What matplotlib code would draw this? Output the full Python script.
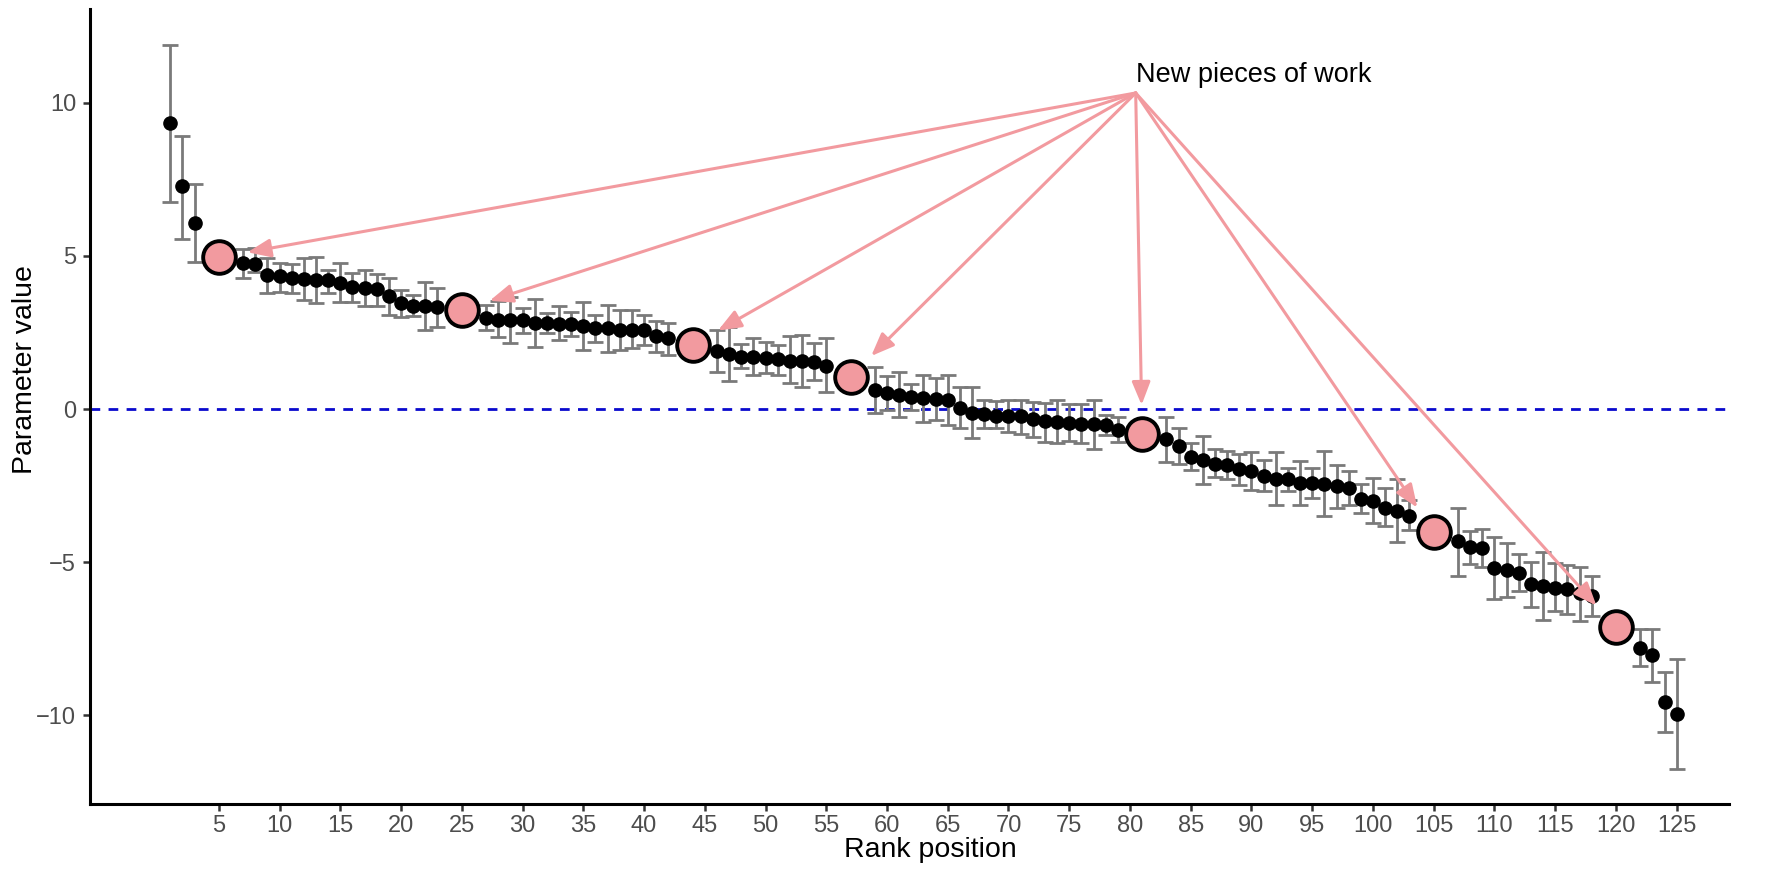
import numpy as np
import matplotlib
matplotlib.use("Agg")
import matplotlib.pyplot as plt

plt.rcParams['font.family'] = ['Liberation Sans', 'DejaVu Sans']

nan = np.nan

# ranked estimates with interval bounds (ranks hidden under the pink markers are nan)
rank = np.arange(1, 126)
value = [9.34, 7.27, 6.09, nan, nan, nan, 4.76, 4.74, 4.36, 4.33,
         4.27, 4.24, 4.20, 4.20, 4.13, 3.99, 3.94, 3.91, 3.70, 3.46,
         3.37, 3.35, 3.33, nan, nan, nan, 2.98, 2.91, 2.91, 2.91,
         2.80, 2.80, 2.78, 2.78, 2.71, 2.64, 2.64, 2.59, 2.59, 2.59,
         2.39, 2.31, nan, nan, nan, 1.90, 1.79, 1.71, 1.69, 1.66,
         1.62, 1.58, 1.58, 1.55, 1.42, nan, nan, nan, 0.62, 0.51,
         0.46, 0.40, 0.35, 0.33, 0.29, 0.04, -0.14, -0.16, -0.23, -0.23,
         -0.23, -0.34, -0.38, -0.42, -0.45, -0.49, -0.50, -0.52, -0.67, nan,
         nan, nan, -0.98, -1.21, -1.56, -1.67, -1.78, -1.83, -1.97, -2.03,
         -2.19, -2.27, -2.30, -2.43, -2.43, -2.45, -2.53, -2.59, -2.95, -2.99,
         -3.22, -3.32, -3.49, nan, nan, nan, -4.31, -4.50, -4.55, -5.20,
         -5.26, -5.36, -5.73, -5.77, -5.83, -5.88, -6.02, -6.10, nan, nan,
         nan, -7.79, -8.04, -9.56, -9.95]
ci_low = [6.77, 5.54, 4.79, nan, nan, nan, 4.27, 4.49, 3.78, 3.83,
          3.78, 3.57, 3.46, 3.78, 3.50, 3.50, 3.35, 3.35, 3.07, 3.02,
          3.04, 2.58, 2.69, nan, nan, nan, 2.58, 2.34, 2.15, 2.47,
          2.04, 2.47, 2.24, 2.37, 1.93, 2.20, 1.87, 1.93, 1.98, 2.09,
          1.87, 1.76, nan, nan, nan, 1.22, 0.90, 1.33, 1.12, 1.16,
          1.11, 0.84, 0.73, 0.95, 0.54, nan, nan, nan, -0.12, -0.03,
          -0.27, -0.03, -0.42, -0.36, -0.52, -0.63, -0.96, -0.63, -0.63, -0.74,
          -0.80, -0.90, -1.07, -1.12, -1.03, -1.12, -1.32, -0.85, -1.07, nan,
          nan, nan, -1.72, -1.80, -2.00, -2.46, -2.21, -2.27, -2.48, -2.63,
          -2.68, -3.14, -2.68, -3.14, -2.90, -3.50, -3.22, -3.14, -3.41, -3.71,
          -3.82, -4.34, -3.95, nan, nan, nan, -5.44, -5.07, -5.15, -6.20,
          -6.13, -5.95, -6.48, -6.90, -6.59, -6.70, -6.92, -6.76, nan, nan,
          nan, -8.39, -8.91, -10.56, -11.74]
ci_high = [11.90, 8.92, 7.35, nan, nan, nan, 5.23, 5.25, 4.92, 4.76,
           4.73, 4.92, 4.95, 4.54, 4.76, 4.43, 4.54, 4.41, 4.27, 3.90,
           3.71, 4.14, 3.94, nan, nan, nan, 3.40, 3.53, 3.65, 3.29,
           3.59, 3.13, 3.35, 3.18, 3.51, 3.07, 3.40, 3.24, 3.24, 3.07,
           2.88, 2.80, nan, nan, nan, 2.58, 2.67, 2.11, 2.31, 2.20,
           2.09, 2.38, 2.42, 2.17, 2.31, nan, nan, nan, 1.36, 1.08,
           1.22, 0.82, 1.11, 1.00, 1.11, 0.73, 0.71, 0.31, 0.27, 0.29,
           0.31, 0.23, 0.18, 0.29, 0.15, 0.15, 0.29, -0.18, -0.25, nan,
           nan, nan, -0.27, -0.63, -1.10, -0.88, -1.32, -1.36, -1.48, -1.39,
           -1.67, -1.39, -1.92, -1.70, -1.94, -1.38, -1.83, -2.02, -2.46, -2.25,
           -2.59, -2.30, -2.97, nan, nan, nan, -3.22, -3.97, -3.93, -4.17,
           -4.39, -4.75, -4.99, -4.66, -5.04, -5.08, -5.15, -5.46, nan, nan,
           nan, -7.19, -7.17, -8.58, -8.18]

# the new pieces of work
new_rank = [5, 25, 44, 57, 81, 105, 120]
new_value = [4.95, 3.24, 2.09, 1.06, -0.82, -4.01, -7.13]

label_x, label_y = 80.47, 10.9
arrow_from = (80.47, 10.32)

pink = '#F29A9F'

value = np.array(value)
lo = value - np.array(ci_low)
hi = np.array(ci_high) - value

fig = plt.figure(figsize=(17.72, 8.77), dpi=100)
ax = fig.add_axes([0.0508, 0.0832, 0.9249, 0.9068])

ax.axhline(0, color='#0A0ACD', lw=2.0, ls=(0, (3.5, 3)), zorder=1)
ax.errorbar(rank, value, yerr=[lo, hi], fmt='o', color='black', ms=9.5,
            ecolor='#7A7A7A', elinewidth=2.0, capsize=5.5, capthick=2.0, zorder=3)
ax.plot(new_rank, new_value, 'o', ms=23.5, mfc=pink, mec='black', mew=2.8, zorder=5)

for r, v in zip(new_rank, new_value):
    ax.annotate('', xy=(r, v), xytext=arrow_from,
                arrowprops=dict(arrowstyle='-|>,head_length=0.7,head_width=0.28',
                                mutation_scale=20, color=pink, lw=2.2,
                                shrinkA=0, shrinkB=21), zorder=4)
ax.text(label_x, label_y, 'New pieces of work', fontsize=19.5, ha='left', va='center')

ax.set_xlim(-5.6, 129.3)
ax.set_ylim(-12.9, 13.07)
ax.set_xticks(np.arange(5, 126, 5))
ax.set_yticks([-10, -5, 0, 5, 10])

for s in ['top', 'right']:
    ax.spines[s].set_visible(False)
for s in ['left', 'bottom']:
    ax.spines[s].set_linewidth(2.2)
ax.tick_params(length=5, width=1.8, color='#333333', labelcolor='#4D4D4D', labelsize=17)
ax.tick_params(axis='x', pad=3)
ax.tick_params(axis='y', pad=5)

ax.set_xlabel('Rank position', fontsize=20.5)
ax.set_ylabel('Parameter value', fontsize=20.5)
ax.xaxis.set_label_coords(0.513, -0.058)
ax.xaxis.label.set_va('center')
ax.yaxis.set_label_coords(-0.0397, 0.546)
ax.yaxis.label.set_va('center')

fig.savefig('out.png', dpi=100)
